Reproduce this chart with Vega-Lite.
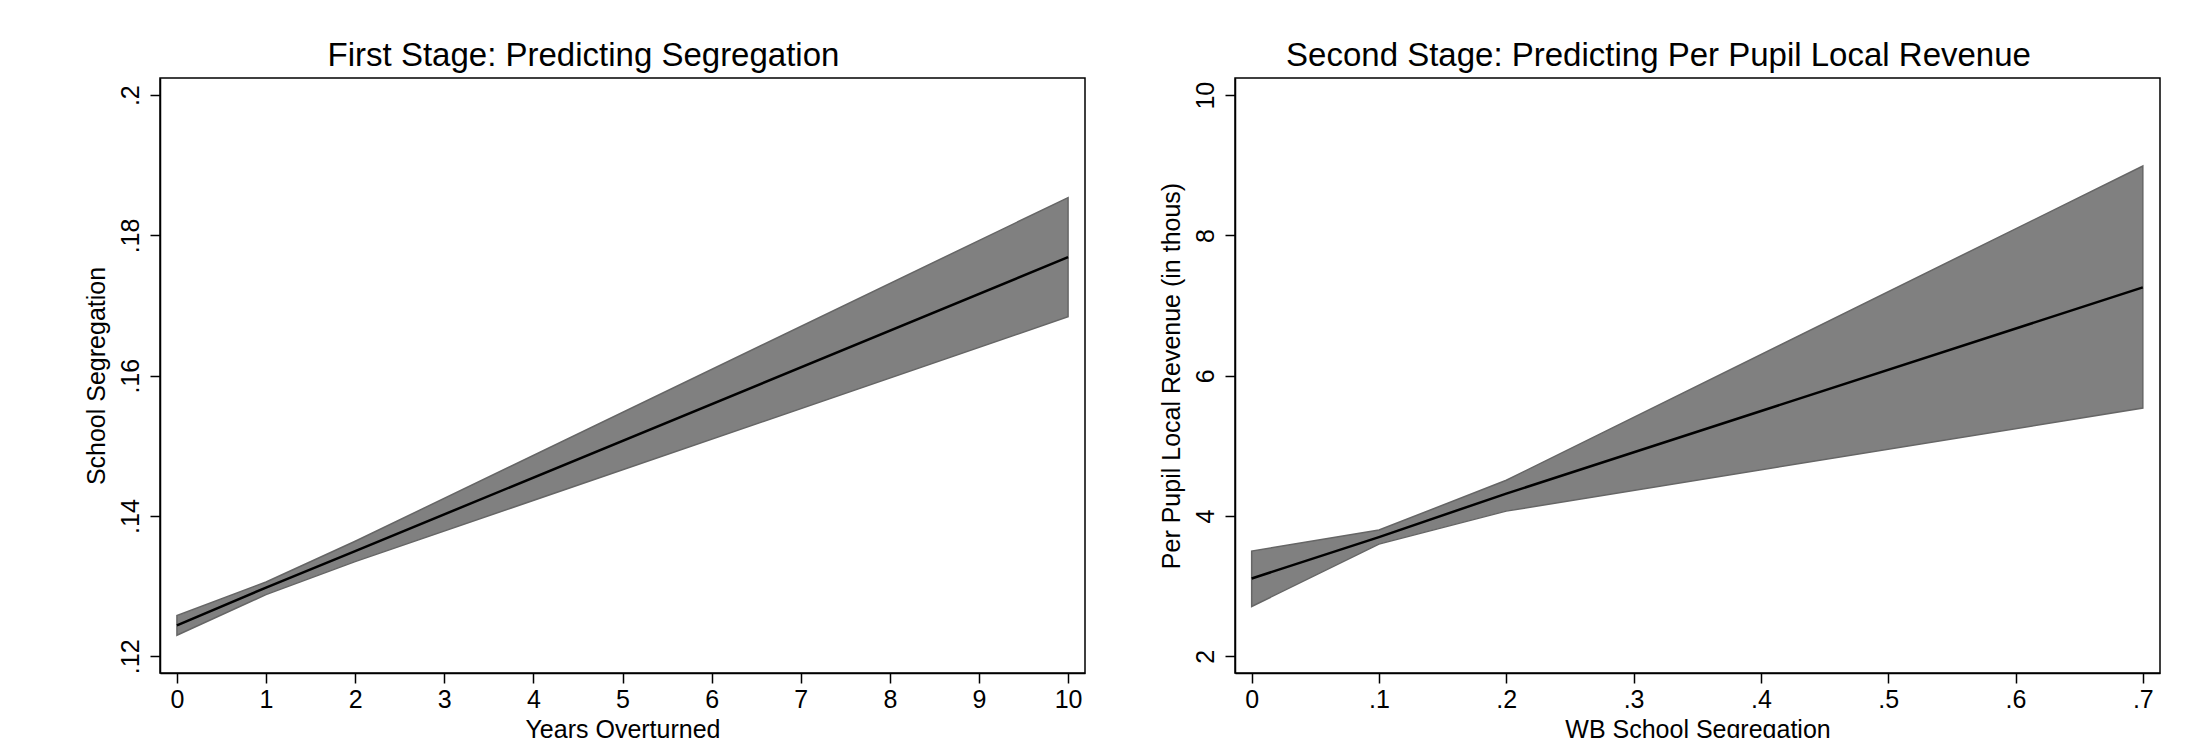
{
  "$schema": "https://vega.github.io/schema/vega-lite/v6.json",
  "background": "white",
  "padding": {"left": 83, "top": 39, "right": 0, "bottom": 0},
  "spacing": 72,
  "config": {
    "font": "Liberation Sans",
    "view": {"stroke": "black", "strokeWidth": 1.5},
    "axis": {
      "grid": false,
      "domain": true,
      "domainColor": "black",
      "domainWidth": 1.5,
      "tickColor": "black",
      "tickWidth": 1.5,
      "tickSize": 10,
      "labelFontSize": 25,
      "titleFontSize": 25,
      "labelColor": "black",
      "titleColor": "black",
      "titleFontWeight": "normal",
      "labelFlush": false,
      "labelOverlap": false
    },
    "axisY": {
      "labelAngle": 270,
      "labelAlign": "center",
      "labelBaseline": "alphabetic",
      "labelPadding": 12,
      "titlePadding": 9
    },
    "axisX": {
      "labelPadding": 4,
      "titlePadding": 5
    },
    "title": {"fontSize": 33, "fontWeight": "normal", "color": "black", "dx": -39, "offset": 5}
  },
  "hconcat": [
    {
      "width": 925,
      "height": 595,
      "title": {"text": "First Stage: Predicting Segregation"},
      "data": {"values": [
        {"x": 0, "lo": 0.1230, "fit": 0.1244, "hi": 0.1258},
        {"x": 1, "lo": 0.1288, "fit": 0.1298, "hi": 0.1306},
        {"x": 2, "lo": 0.1335, "fit": 0.1350, "hi": 0.1364},
        {"x": 10, "lo": 0.1684, "fit": 0.1769, "hi": 0.1854}
      ]},
      "layer": [
        {
          "mark": {"type": "area", "color": "#808080", "stroke": "#666666", "strokeWidth": 1.5, "opacity": 1},
          "encoding": {
            "x": {"field": "x", "type": "quantitative", "scale": {"domain": [-0.19, 10.19], "nice": false, "zero": false},
                  "axis": {"title": "Years Overturned", "values": [0,1,2,3,4,5,6,7,8,9,10], "format": "d"}},
            "y": {"field": "lo", "type": "quantitative", "scale": {"domain": [0.11762, 0.20245], "nice": false, "zero": false},
                  "axis": {"title": "School Segregation", "values": [0.12, 0.14, 0.16, 0.18, 0.2],
                           "labelExpr": "substring(format(datum.value, '.2~f'), 1)"}},
            "y2": {"field": "hi"}
          }
        },
        {
          "mark": {"type": "line", "color": "black", "strokeWidth": 2.5},
          "encoding": {
            "x": {"field": "x", "type": "quantitative"},
            "y": {"field": "fit", "type": "quantitative"}
          }
        }
      ]
    },
    {
      "width": 925,
      "height": 595,
      "title": {"text": "Second Stage: Predicting Per Pupil Local Revenue"},
      "data": {"values": [
        {"x": 0, "lo": 2.71, "fit": 3.11, "hi": 3.50},
        {"x": 0.1, "lo": 3.60, "fit": 3.70, "hi": 3.80},
        {"x": 0.2, "lo": 4.07, "fit": 4.32, "hi": 4.51},
        {"x": 0.7, "lo": 5.54, "fit": 7.26, "hi": 8.99}
      ]},
      "layer": [
        {
          "mark": {"type": "area", "color": "#808080", "stroke": "#666666", "strokeWidth": 1.5, "opacity": 1},
          "encoding": {
            "x": {"field": "x", "type": "quantitative", "scale": {"domain": [-0.0131, 0.7135], "nice": false, "zero": false},
                  "axis": {"title": "WB School Segregation", "values": [0, 0.1, 0.2, 0.3, 0.4, 0.5, 0.6, 0.7],
                           "labelExpr": "datum.value == 0 ? '0' : substring(format(datum.value, '.1~f'), 1)"}},
            "y": {"field": "lo", "type": "quantitative", "scale": {"domain": [1.762, 10.245], "nice": false, "zero": false},
                  "axis": {"title": "Per Pupil Local Revenue (in thous)", "values": [2, 4, 6, 8, 10], "format": "d"}},
            "y2": {"field": "hi"}
          }
        },
        {
          "mark": {"type": "line", "color": "black", "strokeWidth": 2.5},
          "encoding": {
            "x": {"field": "x", "type": "quantitative"},
            "y": {"field": "fit", "type": "quantitative"}
          }
        }
      ]
    }
  ]
}
